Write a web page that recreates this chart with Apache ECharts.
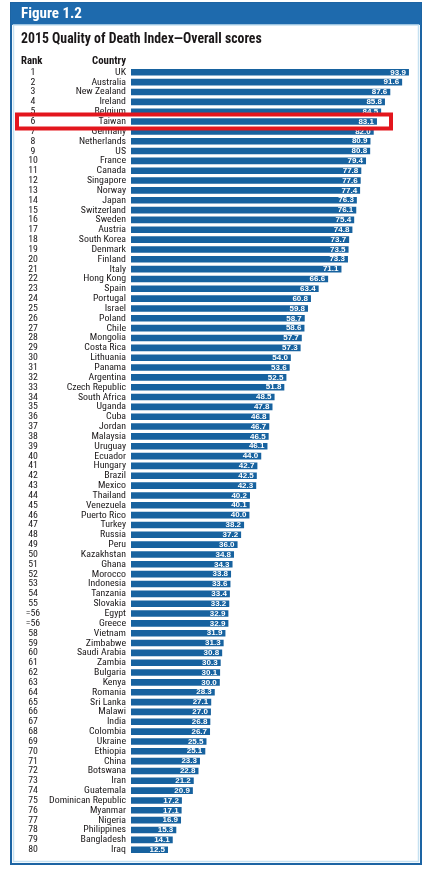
<!DOCTYPE html>
<html>
<head>
<meta charset="utf-8">
<script src="https://cdn.jsdelivr.net/npm/echarts@6/dist/echarts.min.js"></script>
<style>
html,body{margin:0;padding:0;background:#fff;}
#c{width:427px;height:872px;}
</style>
</head>
<body>
<div id="c"></div>
<script>
const countries = ["UK","Australia","New Zealand","Ireland","Belgium","Taiwan","Germany","Netherlands","US","France","Canada","Singapore","Norway","Japan","Switzerland","Sweden","Austria","South Korea","Denmark","Finland","Italy","Hong Kong","Spain","Portugal","Israel","Poland","Chile","Mongolia","Costa Rica","Lithuania","Panama","Argentina","Czech Republic","South Africa","Uganda","Cuba","Jordan","Malaysia","Uruguay","Ecuador","Hungary","Brazil","Mexico","Thailand","Venezuela","Puerto Rico","Turkey","Russia","Peru","Kazakhstan","Ghana","Morocco","Indonesia","Tanzania","Slovakia","Egypt","Greece","Vietnam","Zimbabwe","Saudi Arabia","Zambia","Bulgaria","Kenya","Romania","Sri Lanka","Malawi","India","Colombia","Ukraine","Ethiopia","China","Botswana","Iran","Guatemala","Dominican Republic","Myanmar","Nigeria","Philippines","Bangladesh","Iraq"];
const scores = [93.9,91.6,87.6,85.8,84.5,83.1,82.0,80.9,80.8,79.4,77.8,77.6,77.4,76.3,76.1,75.4,74.8,73.7,73.5,73.3,71.1,66.6,63.4,60.8,59.8,58.7,58.6,57.7,57.3,54.0,53.6,52.5,51.8,48.5,47.8,46.8,46.7,46.5,46.1,44.0,42.7,42.5,42.3,40.2,40.1,40.0,38.2,37.2,36.0,34.8,34.3,33.8,33.6,33.4,33.2,32.9,32.9,31.9,31.3,30.8,30.3,30.1,30.0,28.3,27.1,27.0,26.8,26.7,25.5,25.1,23.3,22.8,21.2,20.9,17.2,17.1,16.9,15.3,14.1,12.5];
const ranks = ["1","2","3","4","5","6","7","8","9","10","11","12","13","14","15","16","17","18","19","20","21","22","23","24","25","26","27","28","29","30","31","32","33","34","35","36","37","38","39","40","41","42","43","44","45","46","47","48","49","50","51","52","53","54","55","=56","=56","58","59","60","61","62","63","64","65","66","67","68","69","70","71","72","73","74","75","76","77","78","79","80"];
const highlight = "Taiwan";
const figureLabel = "Figure 1.2";
const chartTitle = "2015 Quality of Death Index\u2014Overall scores";

// pick the narrowest installed sans font for the condensed look
const cv = document.createElement('canvas').getContext('2d');
function w(font, txt) { cv.font = font; return cv.measureText(txt).width; }
const probe = 'Dominican Republic mmmWWiil';
const candidates = ['Liberation Sans Narrow', 'DejaVu Sans Condensed', 'Roboto Condensed', 'Noto Sans Condensed', 'Roboto', 'Lato', 'Liberation Sans'];
let FAM = 'Liberation Sans', best = 1e9;
for (const f of candidates) {
  const a = w('20px "' + f + '", monospace', probe), b = w('20px "' + f + '", serif', probe);
  if (Math.abs(a - b) < 0.01) { const ww = w('20px "' + f + '"', 'Dominican Republic'); if (ww < best) { best = ww; FAM = f; } }
}
const FONT = '"' + FAM + '", sans-serif';
// size fonts so text widths match the reference
const labelSize = Math.min(11, 77 / w('10px ' + FONT, 'Dominican Republic') * 10);
const titleSize = Math.min(15, 241 / w('bold 10px ' + FONT, chartTitle) * 10);
const figSize = Math.min(17, 61 / w('bold 10px ' + FONT, figureLabel) * 10);
const headSize = Math.min(12, 34 / w('bold 10px ' + FONT, 'Country') * 10);

const BLUE = '#17629f';

const chart = echarts.init(document.getElementById('c'), null, {renderer: 'canvas'});
chart.setOption({
  animation: false,
  backgroundColor: '#ffffff',
  grid: {left: 131, right: 0, top: 67.4, height: 787.2, containLabel: false},
  xAxis: {type: 'value', min: 0, max: 100, show: false},
  yAxis: [
    {
      type: 'category', data: countries, inverse: true,
      axisLine: {show: false}, axisTick: {show: false}, splitLine: {show: false},
      axisLabel: {margin: 5, fontFamily: FONT, fontSize: labelSize, color: '#1a1718', interval: 0}
    },
    {
      type: 'category', data: ranks, inverse: true, position: 'left',
      axisLine: {show: false}, axisTick: {show: false}, splitLine: {show: false},
      axisLabel: {margin: 98, align: 'center', fontFamily: FONT, fontSize: labelSize, color: '#1a1718', interval: 0}
    }
  ],
  series: [{
    type: 'bar', data: scores, yAxisIndex: 0,
    barCategoryGap: '33%',
    itemStyle: {color: BLUE},
    label: {
      show: true, position: 'insideRight', distance: 3,
      color: '#ffffff', fontWeight: 'bold', fontSize: 8,
      fontFamily: '"Liberation Sans", Arial, sans-serif',
      formatter: p => p.value.toFixed(1)
    }
  }],
  graphic: [
    {type: 'rect', z: -10, shape: {x: 11, y: 3, width: 410, height: 861}, style: {fill: '#ffffff', stroke: '#1d64a3', lineWidth: 2}},
    {type: 'rect', z: -9, shape: {x: 11, y: 3, width: 410, height: 22}, style: {fill: '#1e6aad'}},
    {type: 'rect', z: -9, shape: {x: 13.5, y: 25, width: 405, height: 836.5}, style: {fill: 'none', stroke: '#c6e1f1', lineWidth: 1.5}},
    {type: 'text', z: 5, x: 21, y: 14, style: {text: figureLabel, fill: '#ffffff', font: 'bold ' + figSize + 'px ' + FONT, textVerticalAlign: 'middle'}},
    {type: 'text', z: 5, x: 21, y: 40, style: {text: chartTitle, fill: '#1a1718', font: 'bold ' + titleSize + 'px ' + FONT, textVerticalAlign: 'middle'}},
    {type: 'text', z: 5, x: 21, y: 61, style: {text: 'Rank', fill: '#1a1718', font: 'bold ' + headSize + 'px ' + FONT, textVerticalAlign: 'middle'}},
    {type: 'text', z: 5, x: 126, y: 61, style: {text: 'Country', fill: '#1a1718', font: 'bold ' + headSize + 'px ' + FONT, textVerticalAlign: 'middle', textAlign: 'right'}}
  ]
});

const yc = chart.convertToPixel({yAxisIndex: 0}, highlight);
chart.setOption({
  graphic: [
    {type: 'rect', id: 'hl', z: 20, shape: {x: 17, y: yc - 7, width: 374, height: 14}, style: {fill: 'none', stroke: '#e3161d', lineWidth: 4}}
  ]
});
</script>
</body>
</html>
